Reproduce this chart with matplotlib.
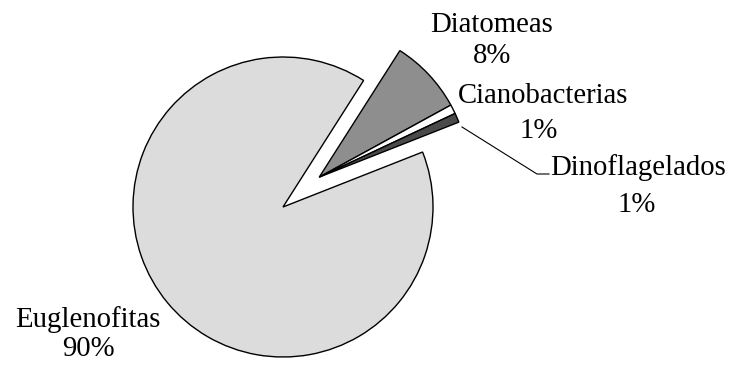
import numpy as np
import matplotlib
matplotlib.use("Agg")
import matplotlib.pyplot as plt

# Phytoplankton composition (percent of total)
groups = ["Diatomeas", "Cianobacterias", "Dinoflagelados", "Euglenofitas"]
shares = [8, 1, 1, 90]
colors = ["#8e8e8e", "#ffffff", "#4a4a4a", "#dcdcdc"]

plt.rcParams["font.family"] = ["Liberation Serif", "DejaVu Serif"]

W, H = 731, 366
fig = plt.figure(figsize=(W / 100, H / 100), dpi=100)
ax = fig.add_axes([0, 0, 1, 1])

center = (283, 159)
radius = 150
start = 57.5
wedges, _ = ax.pie(shares, colors=colors, radius=radius, center=center,
                   startangle=start, counterclock=False,
                   wedgeprops=dict(edgecolor="black", linewidth=1.0),
                   frame=True)
ax.set_xlim(0, W)
ax.set_ylim(0, H)
ax.set_aspect("equal")
ax.axis("off")

# pull the three minor groups out together along their common bisector
minor = sum(shares[:3])
mid = np.deg2rad(start - minor / sum(shares) * 360 / 2)
shift = 47
for w in wedges[:3]:
    w.set_center((center[0] + shift * np.cos(mid), center[1] + shift * np.sin(mid)))

# label anchors: (x of name, baseline of name, x of value, baseline of value)
label_pos = [(492, 32, 492, 63),
             (543, 103, 539, 138),
             (638, 175, 637, 212),
             (88, 327, 88, 356)]

fs = 20.7
for name, val, (x1, y1, x2, y2) in zip(groups, shares, label_pos):
    ax.text(x1, H - y1, name, fontsize=fs, ha="center", va="baseline")
    ax.text(x2, H - y2, f"{val}%", fontsize=fs, ha="center", va="baseline")

# leader line for Dinoflagelados
ax.plot([462, 537, 549], [H - 127, H - 174, H - 174], color="black", lw=0.8)

fig.savefig("out.png", dpi=100, facecolor="white")
